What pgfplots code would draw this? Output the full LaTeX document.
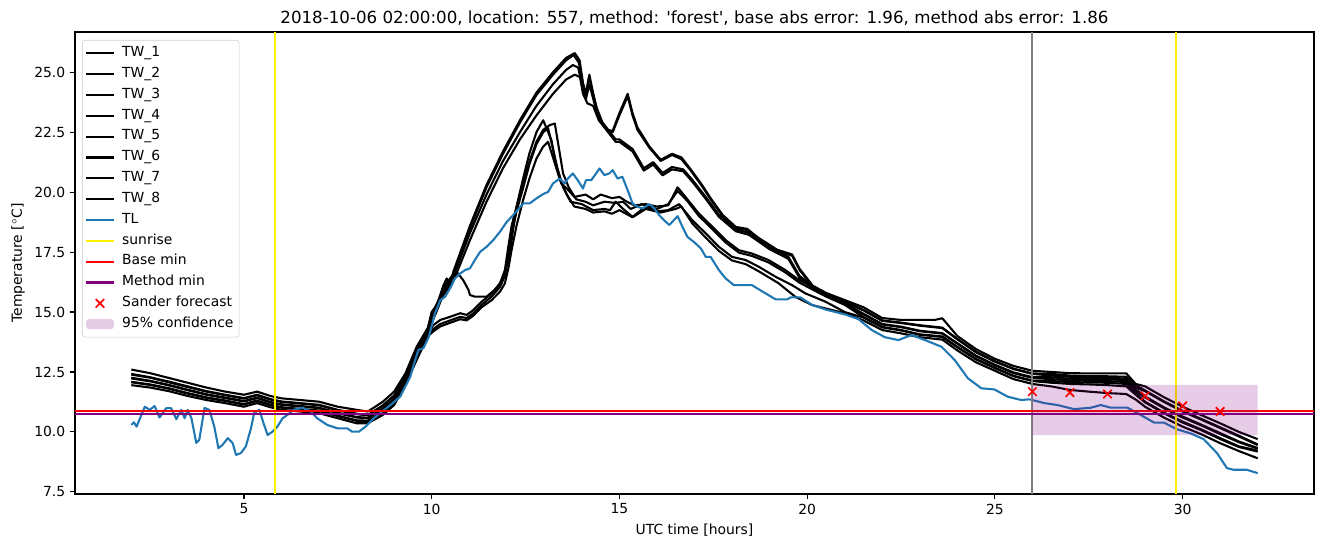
\documentclass[border=0pt]{standalone}
\usepackage{pgfplots}
\pgfplotsset{compat=1.18}
\usepackage{fontspec}
\setmainfont{DejaVu Sans}[Ligatures=TeXOff]
\definecolor{tabblue}{HTML}{1F77B4}
\definecolor{mplpurple}{HTML}{800080}
\definecolor{mplgray}{HTML}{808080}

\begin{document}
\begin{tikzpicture}
\useasboundingbox (-54pt,-38.16pt) rectangle (899.28pt,355.68pt);
\begin{axis}[
    at={(0pt,0pt)}, anchor=south west,
    scale only axis, width=892.08pt, height=332.64pt,
    xmin=0.5, xmax=33.5, ymin=7.41, ymax=26.68,
    xtick={5,10,15,20,25,30},
    ytick={7.5,10,12.5,15,17.5,20,22.5,25},
    yticklabel style={/pgf/number format/.cd,fixed,fixed zerofill,precision=1},
    /pgf/number format/assume math mode=true,
    tick align=outside, xtick pos=left, ytick pos=left,
    major tick length=3.5pt,
    every tick/.style={black, line width=0.8pt},
    axis line style={line width=0.8pt},
    ticklabel style={font=\fontsize{10}{12}\selectfont},
    label style={font=\fontsize{10}{12}\selectfont},
    xlabel={UTC time [hours]},
    ylabel={Temperature [$^\circ$C]},
    title={2018-10-06 02:00:00, location: 557, method: 'forest', base abs error: 1.96, method abs error: 1.86},
    title style={font=\fontsize{12}{14.4}\selectfont, yshift=-5pt},
    legend cell align=left,
    legend style={at={(0.00565,0.9827)}, anchor=north west, draw=black!20,
        rounded corners=2pt, fill=white, fill opacity=0.8, text opacity=1,
        font=\fontsize{10}{12}\selectfont, inner ysep=1.9pt, inner xsep=2pt,
        nodes={text height=7.3pt, text depth=2.7pt, inner ysep=2.5pt}},
    legend image code/.code={\draw[mark repeat=2,mark phase=2,#1] plot coordinates {(0pt,0pt) (10pt,0pt) (20pt,0pt)};
        \path[draw=none, fill=none] (0pt,0pt) -- (24pt,0pt);},
    every axis plot/.append style={line width=1.5pt, line join=round},
]

% TW_1
\addplot[black] coordinates {
(2,12.60)(2.5,12.45)(3,12.25)(3.5,12.05)(4,11.85)(4.5,11.68)(5,11.55)(5.35,11.68)(5.7,11.50)(6,11.40)(6.5,11.33)(7,11.26)(7.5,11.05)(8,10.92)(8.3,10.85)(8.7,11.26)(9,11.68)(9.3,12.44)(9.6,13.55)(9.9,14.35)
(10.0,15.0)(10.14,15.3)(10.31,16.1)(10.4,16.4)(10.49,16.15)(10.58,16.7)(11.02,18.6)(11.46,20.3)(11.9,21.7)(12.35,23.0)(12.79,24.15)(13.23,25.0)(13.58,25.6)(13.81,25.8)(13.94,25.5)(14.03,24.55)(14.11,24.1)(14.2,24.9)(14.29,24.2)(14.38,23.55)(14.55,22.9)(14.69,22.6)(14.82,22.55)(15.0,23.3)(15.22,24.1)(15.35,23.3)(15.48,22.7)(15.8,21.9)
(16.1,21.35)(16.4,21.6)(16.65,21.45)(16.9,20.95)(17.2,20.3)(17.45,19.7)(17.75,19.05)(18.1,18.55)(18.4,18.47)(18.7,18.1)(19.2,17.6)(19.6,17.4)(19.8,16.8)(20.15,16.1)(20.5,15.8)(21.0,15.5)
(21.5,15.20)(22,14.75)(22.5,14.67)(23,14.67)(23.4,14.67)(23.6,14.74)(24,14.00)(24.5,13.45)(25,13.05)(25.5,12.75)(26,12.55)(26.5,12.50)(27,12.45)(27.5,12.44)(28,12.44)(28.5,12.44)(28.75,12.00)(29,11.90)(29.5,11.45)(30,11.05)(30.5,10.70)(31,10.36)(31.5,10.00)(32,9.70)
};
\addlegendentry{TW\_1}
% TW_2
\addplot[black] coordinates {
(2,12.42)(2.5,12.28)(3,12.10)(3.5,11.90)(4,11.70)(4.5,11.55)(5,11.41)(5.35,11.55)(5.7,11.37)(6,11.27)(6.5,11.20)(7,11.13)(7.5,10.92)(8,10.76)(8.3,10.71)(8.7,11.11)(9,11.52)(9.3,12.31)(9.6,13.40)(9.9,14.3)
(10.0,14.95)(10.14,15.25)(10.31,16.0)(10.58,16.6)(11.02,18.5)(11.46,20.2)(11.9,21.6)(12.35,22.9)(12.79,24.05)(13.23,24.9)(13.58,25.5)(13.78,25.72)(13.92,25.4)(14.03,24.5)(14.1,24.05)(14.19,24.8)(14.3,24.1)(14.4,23.5)(14.55,22.85)(14.69,22.55)(14.82,22.5)(15.0,23.2)(15.22,24.0)(15.35,23.2)(15.48,22.6)(15.8,21.85)
(16.1,21.3)(16.4,21.55)(16.65,21.38)(16.9,20.9)(17.2,20.25)(17.45,19.65)(17.75,19.0)(18.1,18.5)(18.4,18.42)(18.7,18.05)(19.2,17.55)(19.6,17.35)(19.8,16.75)(20.15,16.05)(20.5,15.75)(21.0,15.45)
(21.5,15.09)(22,14.65)(22.5,14.56)(23,14.45)(23.6,14.35)(24,13.88)(24.5,13.34)(25,12.95)(25.5,12.64)(26,12.44)(26.5,12.42)(27,12.35)(27.5,12.32)(28,12.32)(28.5,12.30)(28.75,11.95)(29,11.73)(29.5,11.28)(30,10.88)(30.5,10.54)(31,10.19)(31.5,9.84)(32,9.48)
};
\addlegendentry{TW\_2}
% TW_3
\addplot[black] coordinates {
(2,12.39)(2.5,12.26)(3,12.07)(3.5,11.87)(4,11.68)(4.5,11.53)(5,11.39)(5.35,11.53)(5.7,11.35)(6,11.25)(6.5,11.18)(7,11.11)(7.5,10.90)(8,10.74)(8.3,10.69)(8.7,11.08)(9,11.50)(9.3,12.29)(9.6,13.37)(9.9,14.25)
(10.1,14.9)(10.3,15.7)(10.5,16.3)(10.66,16.68)(10.84,16.33)(10.98,15.92)(11.02,15.71)(11.15,15.64)(11.46,15.64)(11.73,15.99)(11.9,16.4)(12.04,17.17)(12.13,18.0)(12.21,18.97)(12.3,19.67)(12.44,20.6)(12.6,21.6)(12.79,22.5)(12.97,23.0)(13.19,22.17)(13.32,21.06)(13.45,20.36)(13.6,20.15)(13.8,19.8)
(14.1,19.9)(14.3,19.7)(14.5,19.9)(14.8,19.75)(15.0,19.8)(15.2,19.6)(15.4,19.45)(15.7,19.5)(16.0,19.4)(16.3,19.45)(16.55,20.2)(16.76,19.8)(17.12,19.1)(17.48,18.55)(17.83,18.0)(18.18,17.58)(18.53,17.44)(18.97,17.17)(19.42,16.75)(19.79,16.33)(20.13,16.05)(20.5,15.75)(21.0,15.35)
(21.5,14.90)(22,14.48)(22.5,14.37)(23,14.20)(23.6,14.10)(24,13.68)(24.5,13.15)(25,12.78)(25.5,12.45)(26,12.25)(26.5,12.20)(27,12.15)(27.5,12.13)(28,12.12)(28.5,12.08)(28.75,11.70)(29,11.44)(29.5,10.99)(30,10.60)(30.5,10.27)(31,9.91)(31.5,9.57)(32,9.30)
};
\addlegendentry{TW\_3}
% TW_4
\addplot[black] coordinates {
(2,12.26)(2.5,12.13)(3,11.96)(3.5,11.76)(4,11.57)(4.5,11.43)(5,11.29)(5.35,11.43)(5.7,11.25)(6,11.15)(6.5,11.08)(7,11.01)(7.5,10.80)(8,10.62)(8.3,10.59)(8.7,10.97)(9,11.38)(9.3,12.19)(9.6,13.26)(9.9,14.2)
(10.0,14.9)(10.31,15.9)(10.58,16.5)(11.02,18.3)(11.46,19.9)(11.9,21.3)(12.35,22.5)(12.79,23.6)(13.23,24.5)(13.58,25.1)(13.76,25.3)(13.9,25.2)(14.03,24.3)(14.11,23.9)(14.2,24.5)(14.3,23.9)(14.45,23.1)(14.65,22.7)(14.9,22.2)(15.0,22.2)(15.35,21.8)(15.65,21.0)(15.9,21.25)
(16.15,20.8)(16.4,21.05)(16.7,20.95)(16.95,20.5)(17.3,19.8)(17.65,19.05)(18.1,18.45)(18.45,18.3)(19.0,17.7)(19.5,17.3)(19.8,16.5)(20.3,15.9)(21.0,15.4)
(21.5,15.07)(22,14.63)(22.5,14.54)(23,14.43)(23.6,14.33)(24,13.86)(24.5,13.32)(25,12.93)(25.5,12.62)(26,12.42)(26.5,12.35)(27,12.30)(27.5,12.27)(28,12.27)(28.5,12.22)(28.75,11.85)(29,11.70)(29.5,11.25)(30,10.85)(30.5,10.51)(31,10.16)(31.5,9.81)(32,9.45)
};
\addlegendentry{TW\_4}
% TW_5
\addplot[black] coordinates {
(2,12.23)(2.5,12.11)(3,11.94)(3.5,11.74)(4,11.55)(4.5,11.41)(5,11.27)(5.35,11.41)(5.7,11.23)(6,11.13)(6.5,11.06)(7,10.99)(7.5,10.78)(8,10.60)(8.3,10.57)(8.7,10.95)(9,11.36)(9.3,12.17)(9.6,13.24)(9.9,14.15)
(10.0,14.8)(10.31,15.7)(10.58,16.3)(11.02,18.0)(11.46,19.6)(11.9,21.0)(12.35,22.2)(12.79,23.2)(13.23,24.1)(13.58,24.7)(13.81,24.9)(13.95,24.8)(14.03,24.1)(14.15,23.7)(14.3,23.6)(14.45,23.0)(14.65,22.6)(14.9,22.1)(15.0,22.1)(15.35,21.7)(15.65,20.9)(15.9,21.15)
(16.15,20.7)(16.4,20.95)(16.7,20.87)(16.95,20.42)(17.3,19.72)(17.65,18.97)(18.1,18.37)(18.45,18.22)(19.0,17.62)(19.5,17.22)(19.8,16.42)(20.3,15.82)(21.0,15.35)
(21.5,14.93)(22,14.50)(22.5,14.39)(23,14.22)(23.6,14.12)(24,13.70)(24.5,13.18)(25,12.80)(25.5,12.48)(26,12.28)(26.5,12.28)(27,12.22)(27.5,12.20)(28,12.20)(28.5,12.15)(28.75,11.78)(29,11.48)(29.5,11.03)(30,10.64)(30.5,10.30)(31,9.95)(31.5,9.60)(32,9.33)
};
\addlegendentry{TW\_5}
% TW_6
\addplot[black] coordinates {
(2,12.09)(2.5,11.98)(3,11.82)(3.5,11.62)(4,11.44)(4.5,11.31)(5,11.16)(5.35,11.31)(5.7,11.13)(6,11.03)(6.5,10.96)(7,10.89)(7.5,10.68)(8,10.48)(8.3,10.47)(8.7,10.83)(9,11.24)(9.3,12.07)(9.6,13.12)(9.9,14.15)
(10.05,14.46)(10.23,14.67)(10.49,14.8)(10.76,14.95)(10.93,14.88)(11.11,15.08)(11.33,15.43)(11.6,15.78)(11.82,16.2)(11.95,16.75)(12.04,17.72)(12.13,18.6)(12.26,19.4)(12.44,20.4)(12.61,21.3)(12.79,22.1)(12.97,22.6)(13.15,22.8)(13.28,22.86)(13.5,20.78)(13.65,20.2)(13.85,19.7)
(14.1,19.6)(14.3,19.45)(14.6,19.6)(14.9,19.55)(15.1,19.6)(15.3,19.3)(15.6,19.5)(16.0,19.3)(16.3,19.5)(16.55,20.05)(16.8,19.65)(17.12,19.0)(17.48,18.45)(17.83,17.9)(18.18,17.48)(18.53,17.34)(18.97,17.07)(19.42,16.65)(19.79,16.23)(20.13,15.95)(20.5,15.65)(21.0,15.3)
(21.5,14.79)(22,14.38)(22.5,14.25)(23,14.07)(23.6,13.98)(24,13.55)(24.5,13.04)(25,12.68)(25.5,12.34)(26,12.14)(26.5,12.12)(27,12.08)(27.5,12.06)(28,12.05)(28.5,12.00)(28.75,11.62)(29,11.26)(29.5,10.81)(30,10.43)(30.5,10.10)(31,9.74)(31.5,9.40)(32,9.22)
};
\addlegendentry{TW\_6}
% TW_7
\addplot[black] coordinates {
(2,12.07)(2.5,11.96)(3,11.80)(3.5,11.60)(4,11.42)(4.5,11.29)(5,11.14)(5.35,11.29)(5.7,11.12)(6,11.01)(6.5,10.94)(7,10.87)(7.5,10.66)(8,10.46)(8.3,10.45)(8.7,10.81)(9,11.22)(9.3,12.05)(9.6,13.10)(9.9,14.05)
(10.05,14.3)(10.23,14.5)(10.49,14.65)(10.76,14.8)(10.93,14.75)(11.11,14.95)(11.33,15.3)(11.6,15.65)(11.82,16.05)(11.95,16.5)(12.04,17.3)(12.13,18.2)(12.26,19.2)(12.44,20.2)(12.61,21.2)(12.79,22.0)(12.97,22.5)(13.1,22.67)(13.35,21.0)(13.5,20.2)(13.7,19.6)
(14.0,19.5)(14.3,19.25)(14.6,19.3)(14.75,19.25)(14.9,19.6)(15.1,19.3)(15.35,18.97)(15.7,19.4)(16.0,19.2)(16.3,19.25)(16.59,19.5)(16.94,18.83)(17.3,18.28)(17.65,17.72)(18.0,17.3)(18.36,17.17)(18.71,16.89)(19.16,16.47)(19.6,16.12)(19.95,15.78)(20.49,15.43)(21.0,15.0)
(21.5,14.77)(22,14.36)(22.5,14.23)(23,14.05)(23.6,13.96)(24,13.53)(24.5,13.02)(25,12.66)(25.5,12.32)(26,12.12)(26.5,12.05)(27,12.00)(27.5,11.98)(28,11.95)(28.5,11.90)(28.75,11.55)(29,11.23)(29.5,10.78)(30,10.39)(30.5,10.07)(31,9.70)(31.5,9.37)(32,9.18)
};
\addlegendentry{TW\_7}
% TW_8
\addplot[black] coordinates {
(2,11.95)(2.5,11.85)(3,11.70)(3.5,11.50)(4,11.33)(4.5,11.20)(5,11.05)(5.35,11.20)(5.7,11.03)(6,10.92)(6.5,10.85)(7,10.78)(7.5,10.57)(8,10.36)(8.3,10.36)(8.7,10.71)(9,11.12)(9.3,11.96)(9.6,13.00)(9.9,14.0)
(10.05,14.2)(10.23,14.4)(10.49,14.55)(10.76,14.7)(10.93,14.65)(11.11,14.85)(11.33,15.2)(11.6,15.5)(11.82,15.85)(11.95,16.2)(12.04,16.8)(12.13,17.6)(12.26,18.6)(12.44,19.7)(12.61,20.6)(12.79,21.4)(12.97,21.9)(13.1,22.1)(13.4,20.6)(13.6,19.9)(13.8,19.4)
(14.1,19.3)(14.3,19.15)(14.6,19.2)(14.8,19.1)(15.0,19.25)(15.35,18.95)(15.7,19.3)(16.1,19.15)(16.5,19.3)(16.65,19.4)(16.94,18.7)(17.3,18.1)(17.65,17.55)(18.0,17.15)(18.36,17.0)(18.71,16.7)(19.24,16.2)(19.68,15.64)(20.13,15.29)(21.0,14.95)
(21.5,14.65)(22,14.25)(22.5,14.11)(23,13.95)(23.6,13.85)(24,13.40)(24.5,12.90)(25,12.55)(25.5,12.20)(26,12.00)(26.5,11.90)(27,11.75)(27.5,11.68)(28,11.62)(28.5,11.58)(28.75,11.35)(29,11.05)(29.5,10.60)(30,10.22)(30.5,9.90)(31,9.53)(31.5,9.20)(32,8.90)
};
\addlegendentry{TW\_8}
% TL
\addplot[tabblue] coordinates {
(2.0,10.29)(2.07,10.4)(2.14,10.22)(2.36,11.05)(2.49,10.92)(2.62,11.08)(2.75,10.6)(2.93,10.99)(3.06,10.99)(3.2,10.53)(3.33,10.92)(3.42,10.57)(3.5,10.92)(3.6,10.58)(3.73,9.54)(3.81,9.67)(3.95,11.0)(4.08,10.92)(4.21,10.22)(4.32,9.32)(4.43,9.46)(4.57,9.74)(4.7,9.53)(4.79,9.04)(4.92,9.12)(5.05,9.39)(5.19,10.17)(5.27,10.78)(5.41,10.92)(5.52,10.37)(5.63,9.87)(5.76,10.01)(5.89,10.22)(6.03,10.57)(6.16,10.71)(6.33,10.92)(6.56,11.01)(6.78,10.85)(6.95,10.57)(7.22,10.29)(7.49,10.15)(7.75,10.15)(7.88,10.01)(8.06,10.01)(8.24,10.22)(8.46,10.57)(8.68,10.85)(8.9,11.12)(9.16,11.47)(9.43,12.3)(9.56,13.0)(9.65,13.42)(9.78,13.49)(9.92,13.95)
(10.09,14.95)(10.23,15.5)(10.36,15.64)(10.49,15.99)(10.62,16.4)(10.76,16.61)(10.89,16.75)(11.02,16.82)(11.15,17.17)(11.29,17.51)(11.46,17.72)(11.64,18.0)(11.82,18.35)(12.0,18.76)(12.21,19.11)(12.44,19.53)(12.61,19.53)(12.79,19.74)(12.97,19.92)(13.1,20.01)(13.23,20.36)(13.41,20.57)(13.54,20.36)(13.63,20.57)(13.76,20.78)(13.89,20.5)(14.03,20.15)(14.11,20.5)(14.25,20.5)(14.38,20.78)(14.47,20.99)(14.6,20.71)(14.73,20.78)(14.82,20.92)(14.95,20.57)(15.08,20.64)(15.22,20.08)(15.35,19.53)(15.48,19.39)(15.62,19.32)(15.8,19.5)(15.93,19.32)
(16.06,19.04)(16.19,18.83)(16.33,18.63)(16.55,19.0)(16.68,18.55)(16.81,18.14)(17.03,17.86)(17.17,17.65)(17.3,17.3)(17.43,17.3)(17.65,16.75)(17.83,16.4)(18.05,16.12)(18.53,16.12)(18.89,15.78)(19.16,15.53)(19.47,15.53)(19.56,15.61)(19.82,15.61)(20.13,15.3)(20.5,15.1)(21.01,14.9)(21.37,14.7)(21.72,14.25)(22.07,13.95)(22.43,13.83)(22.78,14.04)(23.14,13.83)(23.58,13.55)(23.93,13.0)(24.28,12.24)(24.64,11.82)(24.99,11.77)(25.34,11.47)(25.7,11.33)(25.92,11.36)
(26.32,11.2)(26.67,11.12)(27.11,10.95)(27.56,11.01)(27.82,11.12)(28.09,11.01)(28.53,11.01)(28.88,10.71)(29.24,10.39)(29.5,10.39)(29.85,10.11)(30.21,9.94)(30.56,9.7)(30.92,9.11)(31.18,8.49)(31.36,8.42)(31.71,8.42)(32.0,8.28)
};
\addlegendentry{TL}
% sunrise
\addplot[yellow] coordinates {(5.83,7.41) (5.83,26.68)};
\addlegendentry{sunrise}
\addplot[yellow, forget plot] coordinates {(29.83,7.41) (29.83,26.68)};
\addplot[mplgray, forget plot] coordinates {(26.0,7.41) (26.0,26.68)};
% minima
\addplot[red] coordinates {(0.5,10.88) (33.5,10.88)};
\addlegendentry{Base min}
\addplot[mplpurple] coordinates {(0.5,10.76) (33.5,10.76)};
\addlegendentry{Method min}
% forecast
\addplot[red, only marks, mark=x, mark size=4.3pt, mark options={line width=1.2pt}] coordinates {
(26,11.68)(27,11.64)(28,11.58)(29,11.50)(30,11.08)(31,10.85)
};
\addlegendentry{Sander forecast}
% confidence
\addplot[draw=none, fill=mplpurple, fill opacity=0.2,
    legend image code/.code={\fill[mplpurple, fill opacity=0.2] (0pt,-3.6pt) rectangle (20pt,3.6pt); \path[draw=none, fill=none] (0pt,0pt) -- (24pt,0pt);}]
    coordinates {(26,9.87) (32,9.87) (32,11.96) (26,11.96) (26,9.87)};
\addlegendentry{95\% confidence}
\end{axis}
\end{tikzpicture}
\end{document}
